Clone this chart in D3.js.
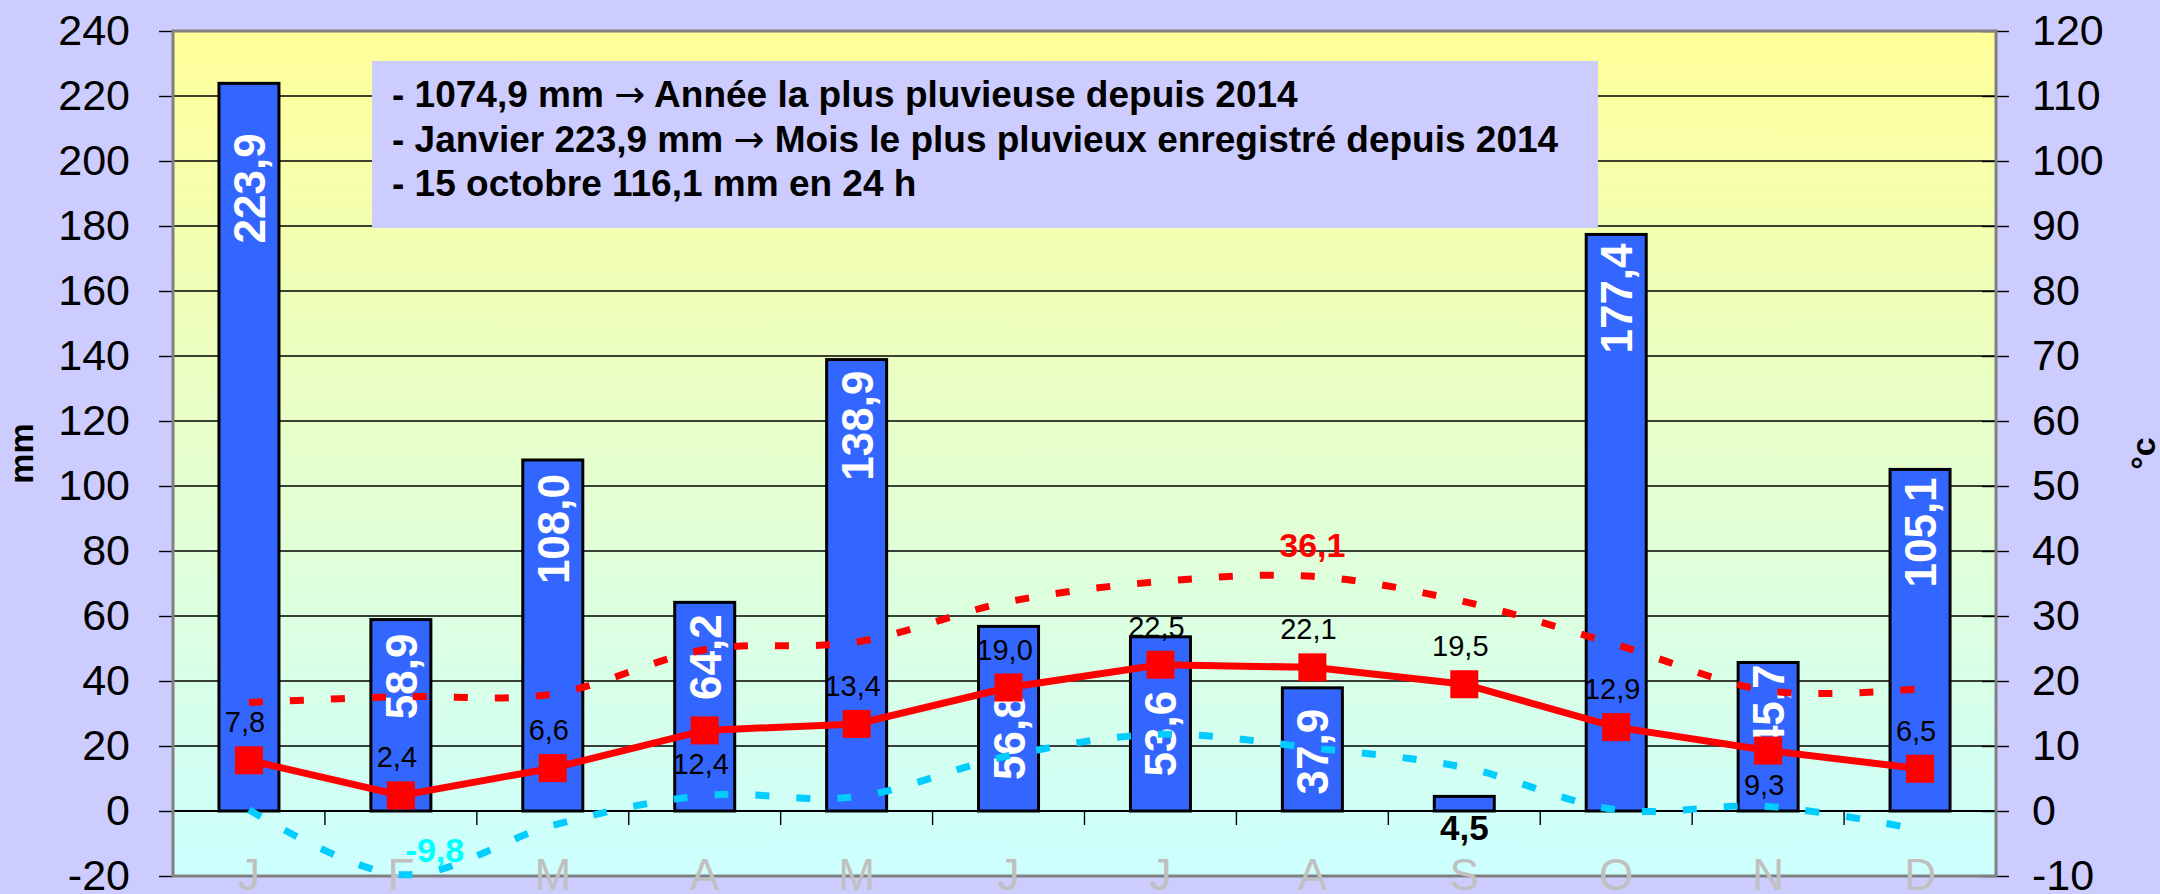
<!DOCTYPE html>
<html>
<head>
<meta charset="utf-8">
<script src="https://cdn.jsdelivr.net/npm/d3@7"></script>
<style>
  body { margin: 0; background: #ccccff; }
  svg { display: block; font-family: Arial, "Liberation Sans", sans-serif; }
</style>
</head>
<body>
<svg id="chart"></svg>
<script>
const width = 2160;
const height = 894;

// data
const months = ["J", "F", "M", "A", "M", "J", "J", "A", "S", "O", "N", "D"];
const rainMm = [223.9, 58.9, 108.0, 64.2, 138.9, 56.8, 53.6, 37.9, 4.5, 177.4, 45.7, 105.1];
const tempMean = [7.8, 2.4, 6.6, 12.4, 13.4, 19.0, 22.5, 22.1, 19.5, 12.9, 9.3, 6.5];
const tempMax = [16.7, 17.6, 18.0, 24.8, 26.0, 32.2, 35.3, 36.1, 32.2, 25.6, 18.5, 18.8];
const tempMin = [0.2, -9.8, -2.2, 2.4, 2.2, 8.5, 11.8, 9.7, 6.7, 0.2, 0.7, -2.9];
const rainTicks = [-20, 0, 20, 40, 60, 80, 100, 120, 140, 160, 180, 200, 220, 240];
const tempTicks = [-10, 0, 10, 20, 30, 40, 50, 60, 70, 80, 90, 100, 110, 120];
const notes = [
    ["- 1074,9 mm ", "Année la plus pluvieuse depuis 2014"],
    ["- Janvier 223,9 mm ", "Mois le plus pluvieux enregistré depuis 2014"],
    ["- 15 octobre 116,1 mm en 24 h"]
];

// label placement (layout only)
const meanLabelSide = ["up", "up", "up", "down", "up", "up", "up", "up", "up", "up", "down", "up"];
const barLabelDrop = [50, 14, 14, 12, 11, 68, 54, 21, 0, 9, 2, 8];

const plot = { left: 173, right: 1996, top: 31, bottom: 876 };

const fmt = d3.formatLocale({ decimal: ",", thousands: " ", grouping: [3], currency: ["", "€"], minus: "-" }).format(".1f");
const intFmt = d => String(d);

const svg = d3.select("#chart")
    .attr("width", width)
    .attr("height", height);

const x = d3.scaleBand()
    .domain(months.map((d, i) => i))
    .range([plot.left, plot.right]);
const yL = d3.scaleLinear().domain([-20, 240]).range([plot.bottom, plot.top]);
const yR = d3.scaleLinear().domain([-10, 120]).range([plot.bottom, plot.top]);
const cx = i => x(i) + x.bandwidth() / 2;
const barW = x.bandwidth() * 0.395;

// plot area background
const grad = svg.append("defs").append("linearGradient")
    .attr("id", "bg").attr("x1", 0).attr("y1", 0).attr("x2", 0).attr("y2", 1);
grad.append("stop").attr("offset", "0%").attr("stop-color", "#ffff99");
grad.append("stop").attr("offset", "100%").attr("stop-color", "#ccffff");

svg.append("rect")
    .attr("x", plot.left).attr("y", plot.top)
    .attr("width", plot.right - plot.left).attr("height", plot.bottom - plot.top)
    .attr("fill", "url(#bg)");

// gridlines
svg.append("g").selectAll("line")
    .data(rainTicks.slice(1, -1))
    .enter().append("line")
    .attr("x1", plot.left).attr("x2", plot.right)
    .attr("y1", d => yL(d)).attr("y2", d => yL(d))
    .attr("stroke", "#000").attr("stroke-width", 1.4);

// category axis at zero
svg.append("line")
    .attr("x1", plot.left).attr("x2", plot.right)
    .attr("y1", yL(0)).attr("y2", yL(0))
    .attr("stroke", "#000").attr("stroke-width", 2);
svg.append("g").selectAll("line")
    .data(d3.range(1, months.length))
    .enter().append("line")
    .attr("x1", d => x(d)).attr("x2", d => x(d))
    .attr("y1", yL(0)).attr("y2", yL(0) + 14)
    .attr("stroke", "#000").attr("stroke-width", 1.4);

// left axis
const leftAxis = svg.append("g")
    .attr("transform", `translate(${plot.left},0)`)
    .call(d3.axisLeft(yL).tickValues(rainTicks).tickFormat(intFmt).tickSize(14).tickPadding(29));
leftAxis.select(".domain").remove();

// right axis (ticks cross the axis line)
const rightAxis = svg.append("g")
    .attr("transform", `translate(${plot.right - 14},0)`)
    .call(d3.axisRight(yR).tickValues(tempTicks).tickFormat(intFmt).tickSize(27).tickPadding(23));
rightAxis.select(".domain").remove();

[leftAxis, rightAxis].forEach(g => {
    g.selectAll(".tick line").attr("stroke", "#000").attr("stroke-width", 1.4);
    g.selectAll(".tick text")
        .attr("font-size", 43)
        .attr("font-family", "Arial, 'Liberation Sans', sans-serif")
        .attr("fill", "#000");
});

// plot border
svg.append("rect")
    .attr("x", plot.left).attr("y", plot.top)
    .attr("width", plot.right - plot.left).attr("height", plot.bottom - plot.top)
    .attr("fill", "none").attr("stroke", "#808080").attr("stroke-width", 3);

// month labels
svg.append("g").selectAll("text")
    .data(months)
    .enter().append("text")
    .attr("x", (d, i) => cx(i))
    .attr("y", 890)
    .attr("text-anchor", "middle")
    .attr("font-size", 44)
    .attr("fill", "#c0c0c0")
    .text(d => d);

// rain bars
svg.append("g").selectAll("rect")
    .data(rainMm)
    .enter().append("rect")
    .attr("x", (d, i) => cx(i) - barW / 2)
    .attr("y", d => yL(d))
    .attr("width", barW)
    .attr("height", d => yL(0) - yL(d))
    .attr("fill", "#3366ff")
    .attr("stroke", "#000")
    .attr("stroke-width", 3);

// bar labels
svg.append("g").selectAll("text")
    .data(rainMm)
    .enter().append("text")
    .each(function (d, i) {
        const t = d3.select(this).text(fmt(d)).attr("font-weight", "bold");
        if (d < 20) {
            t.attr("x", cx(i)).attr("y", yL(0) + 29)
                .attr("text-anchor", "middle")
                .attr("font-size", 35)
                .attr("fill", "#000");
        } else {
            t.attr("transform", `translate(${cx(i) + 16},${yL(d) + barLabelDrop[i]}) rotate(-90)`)
                .attr("text-anchor", "end")
                .attr("font-size", 44)
                .attr("fill", "#fff");
        }
    });

// smoothed max / min temperature curves
const smooth = d3.line()
    .x((d, i) => cx(i))
    .y(d => yR(d))
    .curve(d3.curveCardinal.tension(0));

svg.append("path")
    .attr("d", smooth(tempMin))
    .attr("fill", "none")
    .attr("stroke", "#00ccff")
    .attr("stroke-width", 7)
    .attr("stroke-dasharray", "14,27");

svg.append("path")
    .attr("d", smooth(tempMax))
    .attr("fill", "none")
    .attr("stroke", "#ff0000")
    .attr("stroke-width", 7)
    .attr("stroke-dasharray", "14,27");

// mean temperature line
const straight = d3.line()
    .x((d, i) => cx(i))
    .y(d => yR(d));

svg.append("path")
    .attr("d", straight(tempMean))
    .attr("fill", "none")
    .attr("stroke", "#ff0000")
    .attr("stroke-width", 7);

svg.append("g").selectAll("rect")
    .data(tempMean)
    .enter().append("rect")
    .attr("x", (d, i) => cx(i) - 14)
    .attr("y", d => yR(d) - 14)
    .attr("width", 28)
    .attr("height", 28)
    .attr("fill", "#ff0000");

svg.append("g").selectAll("text")
    .data(tempMean)
    .enter().append("text")
    .attr("x", (d, i) => cx(i) - 4)
    .attr("y", (d, i) => yR(d) + (meanLabelSide[i] === "up" ? -28 : 44))
    .attr("text-anchor", "middle")
    .attr("font-size", 29)
    .attr("fill", "#000")
    .text(d => fmt(d));

// extreme labels
const iMax = d3.maxIndex(tempMax);
svg.append("text")
    .attr("x", cx(iMax))
    .attr("y", yR(tempMax[iMax]) - 19)
    .attr("text-anchor", "middle")
    .attr("font-size", 34)
    .attr("font-weight", "bold")
    .attr("fill", "#ff0000")
    .text(fmt(tempMax[iMax]));

const iMin = d3.minIndex(tempMin);
svg.append("text")
    .attr("x", cx(iMin) + 34)
    .attr("y", yR(tempMin[iMin]) - 13)
    .attr("text-anchor", "middle")
    .attr("font-size", 34)
    .attr("font-weight", "bold")
    .attr("fill", "#00ffff")
    .text(fmt(tempMin[iMin]));

// axis titles
svg.append("text")
    .attr("transform", `translate(33,${(plot.top + plot.bottom) / 2}) rotate(-90)`)
    .attr("text-anchor", "middle")
    .attr("font-size", 34)
    .attr("font-weight", "bold")
    .text("mm");

svg.append("text")
    .attr("transform", `translate(2155,${(plot.top + plot.bottom) / 2}) rotate(-90)`)
    .attr("text-anchor", "middle")
    .attr("font-size", 34)
    .attr("font-weight", "bold")
    .text("°c");

// notes box
const box = svg.append("g");
box.append("rect")
    .attr("x", 372).attr("y", 61)
    .attr("width", 1226).attr("height", 167)
    .attr("fill", "#ccccff");
box.selectAll("text")
    .data(notes)
    .enter().append("text")
    .attr("x", 392)
    .attr("y", (d, i) => 107 + i * 44.5)
    .attr("font-size", 37)
    .attr("font-weight", "bold")
    .attr("fill", "#000")
    .each(function (parts) {
        const t = d3.select(this);
        t.append("tspan").text(parts[0]);
        if (parts.length > 1) {
            t.append("tspan")
                .attr("font-family", "'DejaVu Sans', sans-serif")
                .attr("font-weight", "normal")
                .text("\u2192");
            t.append("tspan").text(" " + parts[1]);
        }
    });
</script>
</body>
</html>
